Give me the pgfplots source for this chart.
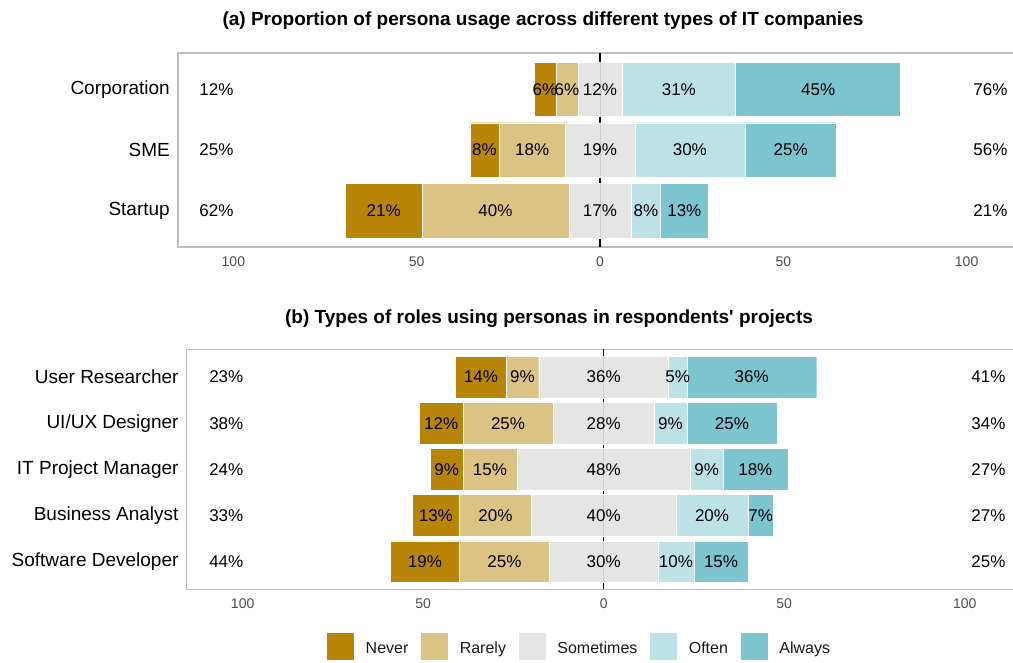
\documentclass[border=0pt]{standalone}
\usepackage{pgfplots}
\pgfplotsset{compat=1.18}
\usepackage{pgfplotstable}
\usepackage{fontspec}
\setmainfont{Liberation Sans}[Ligatures=TeXOff]
\definecolor{cNever}{RGB}{185,133,9}
\definecolor{cRarely}{RGB}{219,194,133}
\definecolor{cSome}{RGB}{229,229,229}
\definecolor{cOften}{RGB}{189,226,230}
\definecolor{cAlways}{RGB}{124,196,206}
\definecolor{cBorder}{RGB}{190,190,190}
\definecolor{cTick}{RGB}{77,77,77}
\definecolor{cFaint}{RGB}{205,205,205}

% panel (a): 0 = Startup, 1 = SME, 2 = Corporation
\pgfplotstableread{
y never rarely some often always lo hi
0 21 40 17 8 13 62 21
1 8 18 19 30 25 25 56
2 6 6 12 31 45 12 76
}\dataA
% panel (b): 0 = Software Developer ... 4 = User Researcher
\pgfplotstableread{
y never rarely some often always lo hi
0 19 25 30 10 15 44 25
1 13 20 40 20 7 33 27
2 9 15 48 9 18 24 27
3 12 25 28 9 25 38 34
4 14 9 36 5 36 23 41
}\dataB

% the stacked bars are drawn in an axis shifted by 150 so that every stacked value is positive
\pgfplotsset{
  common/.style={scale only axis, anchor=north west, clip=false},
  frame/.style={common,
    axis line style={draw=cBorder, line width=1.4pt},
    tick style={draw=none}, major tick length=0pt, minor tick length=0pt,
    xtick={-100,-50,0,50,100}, xticklabels={100,50,0,50,100},
    minor xtick={-75,-25,25,75},
    xmajorgrids, xminorgrids, ymajorgrids,
    grid style={white, line width=0.6pt},
    minor grid style={white, line width=0.6pt},
    /pgf/number format/assume math mode=true,
    xticklabel style={font=\fontsize{14}{16}\selectfont, text=cTick, inner sep=0pt, anchor=north, yshift=-9.5pt},
    yticklabel style={font=\fontsize{19}{22}\selectfont, text=black, inner sep=0pt, anchor=east, xshift=-8pt},
  },
  bars/.style={common, hide axis, xbar stacked, bar width=0.9},
  seg/.style={draw=white, line width=0.4pt, fill=#1},
  lbl/.style={draw=none, no marks, nodes near coords={\pgfplotspointmeta\%},
    point meta=explicit symbolic,
    every node near coord/.style={anchor=center, inner sep=0pt, font=\fontsize{17}{20}\selectfont, text=black}},
  lblw/.style={lbl, every node near coord/.append style={anchor=west}},
  faint/.style={draw=none, no marks, error bars/.cd, y dir=both, y fixed=0.45, error mark=none,
    error bar style={cFaint, line width=1pt}, /pgfplots/.cd},
}

\begin{document}
\begin{tikzpicture}
\useasboundingbox (0pt,0pt) rectangle (1013pt,-662pt);

\node[font=\fontsize{19}{23}\selectfont\bfseries, anchor=base] at (543pt,-25.5pt)
  {(a) Proportion of persona usage across different types of IT companies};
\node[font=\fontsize{19}{23}\selectfont\bfseries, anchor=base] at (549pt,-323pt)
  {(b) Types of roles using personas in respondents' projects};

% ---------------- panel (a) ----------------
\begin{axis}[frame, at={(178pt,-53pt)}, width=844pt, height=194pt,
  xmin=-115.1, xmax=115.1, ymin=-0.6, ymax=2.6,
  ytick={0,1,2}, yticklabels={Startup,SME,Corporation}]
\addplot[black, line width=1.5pt, no marks] coordinates {(0,-0.6) (0,2.6)};
\end{axis}

\begin{axis}[bars, at={(178pt,-53pt)}, width=844pt, height=194pt,
  xmin=34.9, xmax=265.1, ymin=-0.6, ymax=2.6]
\addplot[draw=none, fill=none] table[y=y, x expr={150-\thisrow{never}-\thisrow{rarely}-0.5*\thisrow{some}}]{\dataA};
\addplot[seg=cNever] table[y=y, x=never]{\dataA};
\addplot[seg=cRarely] table[y=y, x=rarely]{\dataA};
\addplot[seg=cSome] table[y=y, x=some]{\dataA};
\addplot[seg=cOften] table[y=y, x=often]{\dataA};
\addplot[seg=cAlways] table[y=y, x=always]{\dataA};
\end{axis}

\begin{axis}[common, hide axis, at={(178pt,-53pt)}, width=844pt, height=194pt,
  xmin=-115.1, xmax=115.1, ymin=-0.6, ymax=2.6]
\addplot[faint] table[y=y, x expr=0]{\dataA};
\addplot[lbl] table[y=y, meta=never, x expr={-\thisrow{rarely}-0.5*\thisrow{some}-0.5*\thisrow{never}}]{\dataA};
\addplot[lbl] table[y=y, meta=rarely, x expr={-0.5*\thisrow{some}-0.5*\thisrow{rarely}}]{\dataA};
\addplot[lbl] table[y=y, meta=some, x expr=0]{\dataA};
\addplot[lbl] table[y=y, meta=often, x expr={0.5*\thisrow{some}+0.5*\thisrow{often}}]{\dataA};
\addplot[lbl] table[y=y, meta=always, x expr={0.5*\thisrow{some}+\thisrow{often}+0.5*\thisrow{always}}]{\dataA};
\addplot[lblw] table[y=y, meta=lo, x expr=-109.3]{\dataA};
\addplot[lblw] table[y=y, meta=hi, x expr=101.8]{\dataA};
\end{axis}

% ---------------- panel (b) ----------------
\begin{axis}[frame, at={(186.7pt,-349.3pt)}, width=834pt, height=240pt,
  xmin=-115.5, xmax=115.5, ymin=-0.6, ymax=4.6,
  ytick={0,1,2,3,4}, yticklabels={Software Developer,Business Analyst,IT Project Manager,UI/UX Designer,User Researcher}]
\addplot[black, line width=1.5pt, no marks] coordinates {(0,-0.6) (0,4.6)};
\end{axis}

\begin{axis}[bars, at={(186.7pt,-349.3pt)}, width=834pt, height=240pt,
  xmin=34.5, xmax=265.5, ymin=-0.6, ymax=4.6]
\addplot[draw=none, fill=none] table[y=y, x expr={150-\thisrow{never}-\thisrow{rarely}-0.5*\thisrow{some}}]{\dataB};
\addplot[seg=cNever] table[y=y, x=never]{\dataB};
\addplot[seg=cRarely] table[y=y, x=rarely]{\dataB};
\addplot[seg=cSome] table[y=y, x=some]{\dataB};
\addplot[seg=cOften] table[y=y, x=often]{\dataB};
\addplot[seg=cAlways] table[y=y, x=always]{\dataB};
\end{axis}

\begin{axis}[common, hide axis, at={(186.7pt,-349.3pt)}, width=834pt, height=240pt,
  xmin=-115.5, xmax=115.5, ymin=-0.6, ymax=4.6,
  legend columns=5,
  legend style={at={(0.4694,-0.236)}, anchor=center, draw=none, fill=none,
    font=\fontsize{16}{19}\selectfont, text=black!90, inner sep=0pt,
    nodes={inner sep=0pt},
    /tikz/every odd column/.append style={column sep=11pt},
    /tikz/every even column/.append style={column sep=12pt}},
  legend image code/.code={\fill[#1] (0pt,-11.3pt) rectangle (28pt,16.7pt);}]
\addlegendimage{seg=cNever}\addlegendentry{Never}
\addlegendimage{seg=cRarely}\addlegendentry{Rarely}
\addlegendimage{seg=cSome}\addlegendentry{Sometimes}
\addlegendimage{seg=cOften}\addlegendentry{Often}
\addlegendimage{seg=cAlways}\addlegendentry{Always}
\addplot[forget plot, faint] table[y=y, x expr=0]{\dataB};
\addplot[forget plot, lbl] table[y=y, meta=never, x expr={-\thisrow{rarely}-0.5*\thisrow{some}-0.5*\thisrow{never}}]{\dataB};
\addplot[forget plot, lbl] table[y=y, meta=rarely, x expr={-0.5*\thisrow{some}-0.5*\thisrow{rarely}}]{\dataB};
\addplot[forget plot, lbl] table[y=y, meta=some, x expr=0]{\dataB};
\addplot[forget plot, lbl] table[y=y, meta=often, x expr={0.5*\thisrow{some}+0.5*\thisrow{often}}]{\dataB};
\addplot[forget plot, lbl] table[y=y, meta=always, x expr={0.5*\thisrow{some}+\thisrow{often}+0.5*\thisrow{always}}]{\dataB};
\addplot[forget plot, lblw] table[y=y, meta=lo, x expr=-109.3]{\dataB};
\addplot[forget plot, lblw] table[y=y, meta=hi, x expr=101.8]{\dataB};
\end{axis}
\end{tikzpicture}
\end{document}
